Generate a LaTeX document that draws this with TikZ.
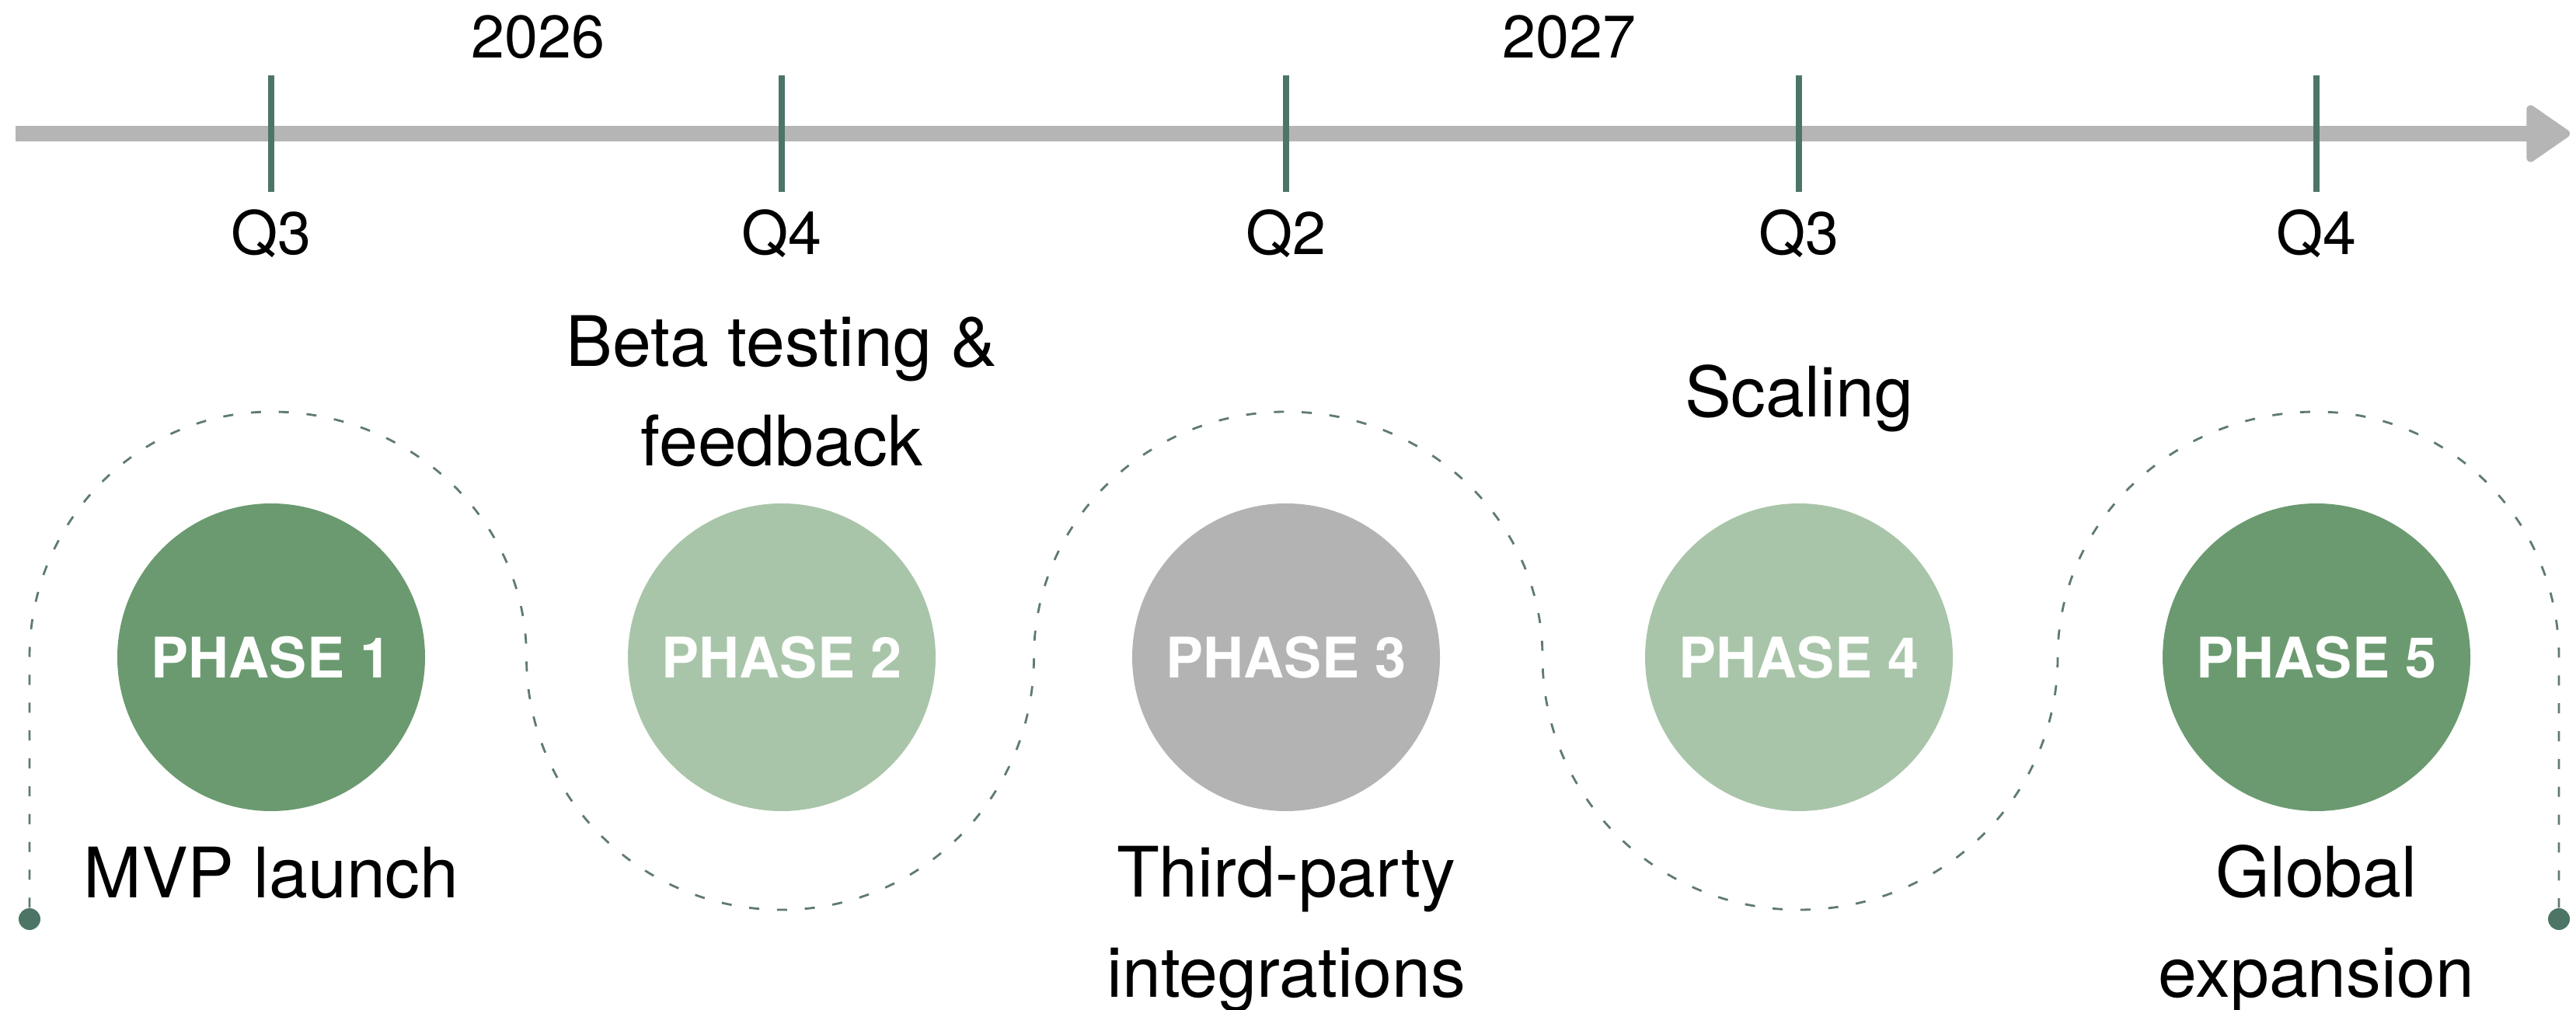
\documentclass[tikz,border=0pt]{standalone}
\usepackage{fontspec}
\setmainfont{TeX Gyre Heros}
\usetikzlibrary{arrows.meta}

\definecolor{darkgreen}{HTML}{6B9A70}
\definecolor{lightgreen}{HTML}{A9C5A9}
\definecolor{stonegray}{HTML}{B3B3B3}
\definecolor{axisgray}{HTML}{B5B5B5}
\definecolor{tickgreen}{HTML}{4D7566}
\definecolor{trailgreen}{HTML}{5F7A72}

\begin{document}
\begin{tikzpicture}[
  phase/.style={circle, minimum size=3.96cm, inner sep=0pt, text=white,
    font=\fontsize{20.5}{24}\selectfont\bfseries},
  quarter/.style={anchor=base, font=\fontsize{22}{26}\selectfont},
  goal/.style={anchor=base, align=center, font=\fontsize{25.5}{36.5}\selectfont},
  qtick/.style={tickgreen, line width=0.08cm},
  dot/.style={circle, fill=tickgreen, minimum size=0.28cm, inner sep=0pt},
  trail/.style={trailgreen, line width=0.8pt, dash pattern=on 3.7pt off 6.5pt}
]
\useasboundingbox (0,0) rectangle (33.15,12.99);

% time axis
\coordinate (axisL) at (0.20,11.27);
\coordinate (axisR) at (33.07,11.27);
\draw[axisgray, line width=0.2cm, -{Triangle[width=8mm,length=6mm,line width=3pt,round]}] (axisL) -- (axisR);

\draw[qtick] (3.49,12.02) -- (3.49,10.52);
\draw[qtick] (10.06,12.02) -- (10.06,10.52);
\draw[qtick] (16.55,12.02) -- (16.55,10.52);
\draw[qtick] (23.15,12.02) -- (23.15,10.52);
\draw[qtick] (29.81,12.02) -- (29.81,10.52);

\node[quarter] (Y26) at (6.92,12.24) {2026};
\node[quarter] (Y27) at (20.19,12.24) {2027};

\node[quarter] (Q3A) at (3.49,9.71) {Q3};
\node[quarter] (Q4A) at (10.06,9.71) {Q4};
\node[quarter] (Q2B) at (16.55,9.71) {Q2};
\node[quarter] (Q3B) at (23.15,9.71) {Q3};
\node[quarter] (Q4B) at (29.81,9.71) {Q4};

% phases
\node[phase, fill=darkgreen] (P1) at (3.49,4.53) {PHASE 1};
\node[phase, fill=lightgreen] (P2) at (10.06,4.53) {PHASE 2};
\node[phase, fill=stonegray] (P3) at (16.55,4.53) {PHASE 3};
\node[phase, fill=lightgreen] (P4) at (23.15,4.53) {PHASE 4};
\node[phase, fill=darkgreen] (P5) at (29.81,4.53) {PHASE 5};

% base of a two-line goal is its last line
\node[goal] (MVP) at (3.49,1.44) {MVP launch};
\node[goal] (BETA) at (10.06,6.99) {Beta testing \&\\feedback};
\node[goal] (INTEG) at (16.55,0.16) {Third-party\\integrations};
\node[goal] (SCALE) at (23.15,7.62) {Scaling};
\node[goal] (GLOBAL) at (29.81,0.16) {Global\\expansion};

% winding trail
\node[dot] (START) at (0.38,1.16) {};
\node[dot] (END) at (32.93,1.16) {};

\draw[trail] (START) -- (0.38,4.53)
  arc[start angle=180, end angle=90, x radius=3.11, y radius=3.16]
  arc[start angle=90, end angle=0, x radius=3.285, y radius=3.16]
  arc[start angle=180, end angle=270, x radius=3.285, y radius=3.25]
  arc[start angle=270, end angle=360, x radius=3.245, y radius=3.25]
  arc[start angle=180, end angle=90, x radius=3.245, y radius=3.16]
  arc[start angle=90, end angle=0, x radius=3.30, y radius=3.16]
  arc[start angle=180, end angle=270, x radius=3.30, y radius=3.25]
  arc[start angle=270, end angle=360, x radius=3.33, y radius=3.25]
  arc[start angle=180, end angle=90, x radius=3.33, y radius=3.16]
  arc[start angle=90, end angle=0, x radius=3.12, y radius=3.16]
  -- (END);

\end{tikzpicture}
\end{document}
